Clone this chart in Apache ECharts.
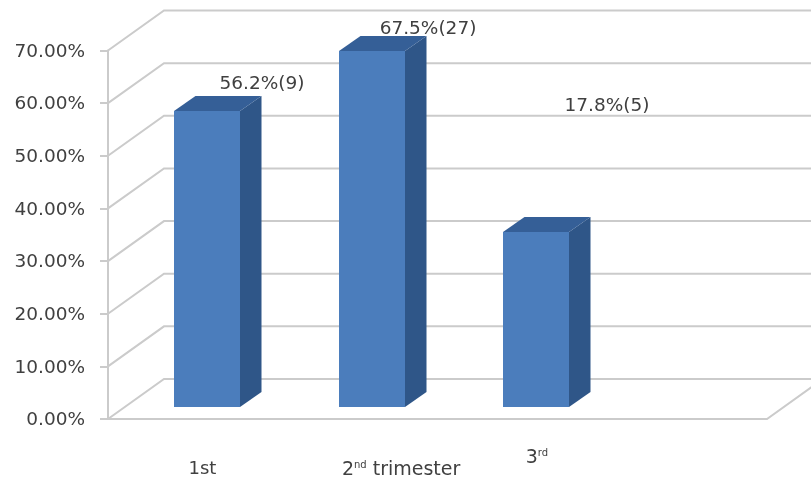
<!DOCTYPE html>
<html>
<head>
<meta charset="utf-8">
<style>html,body{margin:0;padding:0;background:#fff}#chart{width:811px;height:482px}</style>
<script src="https://cdn.jsdelivr.net/npm/echarts@6/dist/echarts.min.js"></script>
</head>
<body>
<div id="chart"></div>
<script>
// Share of cases per trimester; the last category slot stays empty.
const categories = ['1st', '2nd trimester', '3rd', ''];
// Bar heights. The third bar's height differs from its printed figure (17.8), which is kept as published.
const barValues = [56.2, 67.5, 33.2];
const labelPercents = ['56.2', '67.5', '17.8'];
const labelCounts = [9, 27, 5];
const axisTicks = [0, 10, 20, 30, 40, 50, 60, 70];

const TEXT = '#404040';
const FONT = '"DejaVu Sans", sans-serif';
const GRID_LINE = '#cbcbcb';
// Oblique projection of the chart box: depth of the walls and of each bar, in pixels.
const WALL_DX = 56, WALL_DY = -40;
const BAR_OFF_DX = 16.5, BAR_OFF_DY = -12.5, BAR_DX = 21.5, BAR_DY = -15;
const BAR_RATIO = 0.4;

function renderWallLine(params, api) {
  const box = params.coordSys;
  const p = api.coord([0, api.value(1)]);
  const x0 = box.x, y = p[1];
  const lineStyle = { stroke: GRID_LINE, lineWidth: 2, fill: null };
  const back = [x0 + WALL_DX, y + WALL_DY];
  const children = [{
    type: 'polyline',
    shape: { points: [[x0, y], back, [x0 + box.width + WALL_DX, y + WALL_DY]] },
    style: lineStyle
  }];
  // The floor also closes on the right-hand side.
  if (api.value(1) === 0) {
    children.push({
      type: 'polyline',
      shape: { points: [[x0, y], [x0 + box.width, y], [x0 + box.width + WALL_DX, y + WALL_DY]] },
      style: lineStyle
    });
  }
  return { type: 'group', children };
}

function renderBar(params, api) {
  const top = api.coord([api.value(0), api.value(1)]);
  const base = api.coord([api.value(0), 0]);
  const w = Math.round(api.size([1, 0])[0] * BAR_RATIO);
  // Whole-pixel edges keep the faces free of seams where they meet.
  const l = Math.round(top[0] - w / 2 + BAR_OFF_DX), r = l + w;
  const t = Math.round(top[1] + BAR_OFF_DY), b = Math.round(base[1] + BAR_OFF_DY);
  return {
    type: 'group',
    children: [
      { type: 'polygon',
        shape: { points: [[r, t], [r + BAR_DX, t + BAR_DY], [r + BAR_DX, b + BAR_DY], [r, b]] },
        style: { fill: '#2f5688' } },
      { type: 'polygon',
        shape: { points: [[l, t], [l + BAR_DX, t + BAR_DY], [r + BAR_DX, t + BAR_DY], [r, t]] },
        style: { fill: '#355f97' } },
      { type: 'rect',
        shape: { x: l, y: t, width: w, height: b - t },
        style: { fill: '#4b7dbc' } }
    ]
  };
}

// Free-floating annotations sitting around the bars.
const annotationAnchors = [[262, 84], [428, 29], [607, 106]];
const annotations = labelPercents.map((p, i) => ({
  type: 'text',
  z: 50,
  x: annotationAnchors[i][0],
  y: annotationAnchors[i][1],
  style: {
    text: p + '%(' + labelCounts[i] + ')',
    fill: TEXT,
    font: '18.5px ' + FONT,
    align: 'center',
    verticalAlign: 'middle'
  }
}));

const categoryItems = [
  { value: categories[0], textStyle: { padding: [12, 0, 0, 24] } },
  { value: categories[1], textStyle: { padding: [12, 0, 0, 92] } },
  { value: categories[2], textStyle: { padding: [0, 0, 0, 34] } },
  { value: categories[3] }
];

const chart = echarts.init(document.getElementById('chart'), null, { renderer: 'canvas' });
chart.setOption({
  animation: false,
  backgroundColor: '#ffffff',
  grid: { left: 108, top: 50.5, width: 659, height: 368.5 },
  xAxis: {
    type: 'category',
    data: categoryItems,
    boundaryGap: true,
    axisLine: { show: false },
    axisTick: { show: false },
    axisLabel: {
      interval: 0,
      margin: 29,
      color: TEXT,
      fontFamily: FONT,
      fontSize: 18,
      formatter: v => v.replace(/^(\d)(nd|rd)(.*)$/, '{b|$1}{s|$2}{b|$3}'),
      rich: {
        b: { fontSize: 19, fontFamily: FONT, color: TEXT, lineHeight: 20 },
        s: { fontSize: 10, fontFamily: FONT, color: TEXT, verticalAlign: 'top', lineHeight: 20 }
      }
    }
  },
  yAxis: {
    type: 'value',
    min: 0,
    max: 70,
    interval: 10,
    splitLine: { show: false },
    axisLine: { show: true, lineStyle: { color: GRID_LINE, width: 2 } },
    axisTick: { show: true, inside: false, length: 8, lineStyle: { color: GRID_LINE, width: 2 } },
    axisLabel: {
      margin: 23,
      verticalAlign: 'top',
      padding: [-8, 0, 0, 0],
      color: TEXT,
      fontFamily: FONT,
      fontSize: 18.5,
      formatter: v => v.toFixed(2) + '%'
    }
  },
  series: [
    {
      type: 'custom',
      name: 'walls',
      silent: true,
      z: 1,
      clip: false,
      renderItem: renderWallLine,
      encode: { x: 0, y: 1 },
      data: axisTicks.map(t => [0, t])
    },
    {
      type: 'custom',
      name: 'Share',
      z: 5,
      clip: false,
      renderItem: renderBar,
      encode: { x: 0, y: 1 },
      data: barValues.map((v, i) => [i, v])
    }
  ],
  graphic: annotations
});
</script>
</body>
</html>
